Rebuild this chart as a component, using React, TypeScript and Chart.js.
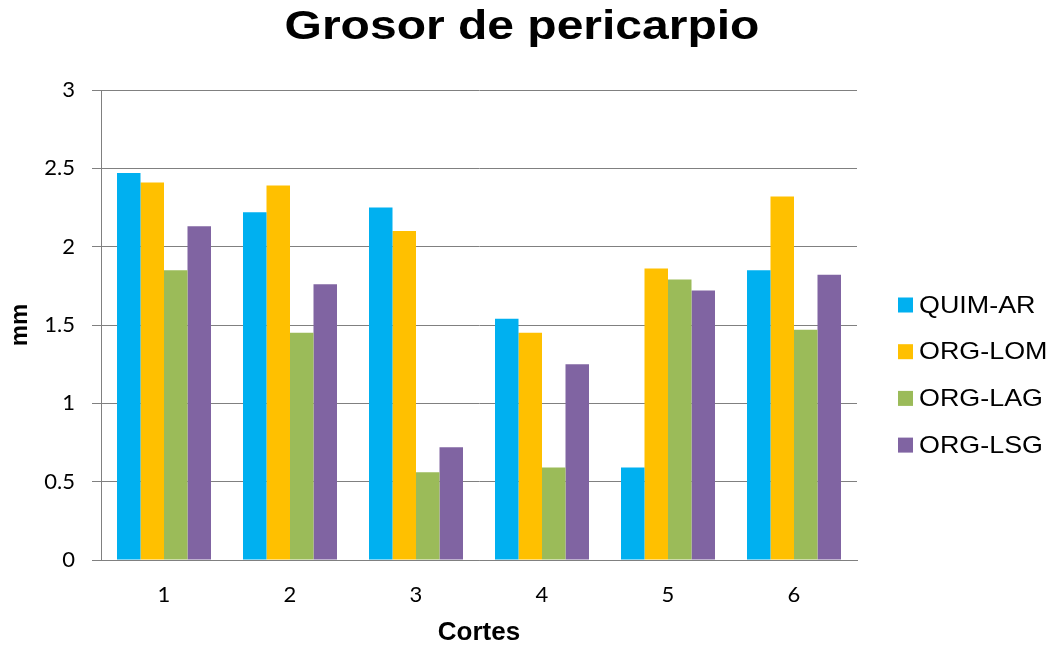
import React, { useEffect, useRef } from "react";
import { Chart, registerables } from "chart.js";

Chart.register(...registerables);

const chartTitle = "Grosor de pericarpio";
const categories = ["1", "2", "3", "4", "5", "6"];
const seriesNames = ["QUIM-AR", "ORG-LOM", "ORG-LAG", "ORG-LSG"];
const quimAR = [2.47, 2.22, 2.25, 1.54, 0.59, 1.85];
const orgLOM = [2.41, 2.39, 2.1, 1.45, 1.86, 2.32];
const orgLAG = [1.85, 1.45, 0.56, 0.59, 1.79, 1.47];
const orgLSG = [2.13, 1.76, 0.72, 1.25, 1.72, 1.82];
const colors = ["#00B0F0", "#FFC000", "#9BBB59", "#8064A2"];
const yTicks = [0, 0.5, 1, 1.5, 2, 2.5, 3];

const titleAndLegendPlugin = {
  id: "titleAndLegend",
  afterDraw(chart: any) {
    const ctx = chart.ctx;
    ctx.save();
    // title (horizontally stretched like the reference)
    ctx.font = "bold 40px 'Liberation Sans', Arial, sans-serif";
    ctx.textBaseline = "middle";
    ctx.textAlign = "center";
    ctx.fillStyle = "#000";
    ctx.save();
    ctx.translate(522, 28);
    ctx.scale(1.2, 1);
    ctx.fillText(chartTitle, 0, 0);
    ctx.restore();

    // legend
    const startY = 305;
    const step = 46.7;
    const boxX = 898;
    const box = 15;
    ctx.font = "24px 'Liberation Sans', Arial, sans-serif";
    ctx.textAlign = "left";
    chart.data.datasets.forEach((ds: any, i: number) => {
      const cy = startY + i * step;
      ctx.fillStyle = ds.backgroundColor;
      ctx.fillRect(boxX, cy - box / 2, box, box);
      ctx.fillStyle = "#000";
      ctx.save();
      ctx.translate(boxX + 21, cy + 1);
      ctx.scale(1.12, 1);
      ctx.fillText(ds.label, 0, 0);
      ctx.restore();
    });
    ctx.restore();
  },
};

export default function App() {
  const ref = useRef<HTMLCanvasElement>(null);
  useEffect(() => {
    document.body.style.margin = "0";
    const seriesValues = [quimAR, orgLOM, orgLAG, orgLSG];
    const chart = new Chart(ref.current as HTMLCanvasElement, {
      type: "bar",
      data: {
        labels: categories,
        datasets: seriesNames.map((name, i) => ({
          label: name,
          data: seriesValues[i],
          backgroundColor: colors[i],
          borderWidth: 0,
          categoryPercentage: 0.746,
          barPercentage: 1,
        })),
      },
      options: {
        animation: false,
        responsive: false,
        maintainAspectRatio: false,
        layout: { padding: { left: 0, right: 192, top: 90, bottom: 0 } },
        plugins: {
          legend: { display: false },
          tooltip: { enabled: false },
          title: { display: false },
        },
        scales: {
          x: {
            afterFit: (scale: any) => {
              scale.height = 86;
            },
            grid: { display: false, drawTicks: false },
            border: { display: true, color: "#808080", width: 1 },
            ticks: {
              color: "#000",
              font: { family: "Lato, 'Open Sans', sans-serif", size: 22 },
              padding: 22,
            },
            title: {
              display: true,
              text: "Cortes",
              color: "#000",
              font: { family: "'Liberation Sans', Arial, sans-serif", size: 26, weight: "bold", lineHeight: 1 },
              padding: { top: 0, bottom: 0 },
            },
          },
          y: {
            min: 0,
            max: 3,
            afterFit: (scale: any) => {
              scale.width = 101;
            },
            afterBuildTicks: (scale: any) => {
              scale.ticks = yTicks.map((v) => ({ value: v }));
            },
            grid: { color: "#808080", lineWidth: 1, tickLength: 9, tickColor: "#808080" },
            border: { display: true, color: "#808080", width: 1 },
            ticks: {
              color: "#000",
              font: { family: "Lato, 'Open Sans', sans-serif", size: 22 },
              padding: 17,
              callback: (v: any) => String(v),
            },
            title: {
              display: true,
              text: "mm",
              color: "#000",
              font: { family: "'Liberation Sans', Arial, sans-serif", size: 24, weight: "bold", lineHeight: 1.2 },
              padding: { top: 6, bottom: 0 },
            },
          },
        },
      },
      plugins: [titleAndLegendPlugin],
    });
    return () => chart.destroy();
  }, []);
  return (
    <div style={{ width: 1049, height: 646, background: "#fff" }}>
      <canvas ref={ref} width={1049} height={646} style={{ display: "block" }} />
    </div>
  );
}
